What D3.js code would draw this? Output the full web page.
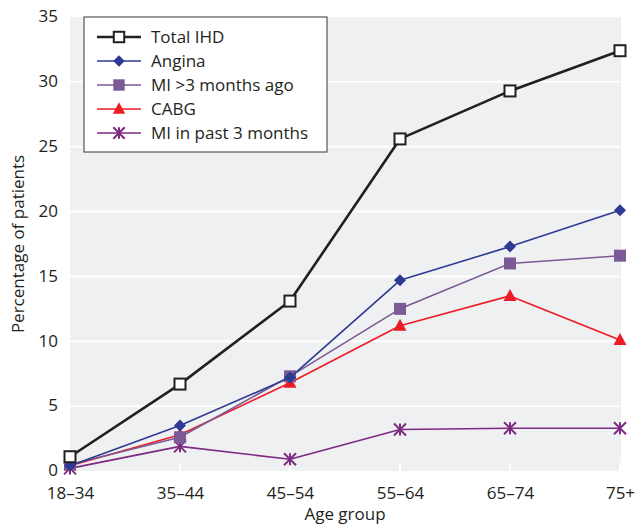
<!DOCTYPE html>
<html><head><meta charset="utf-8">
<script src="https://cdn.jsdelivr.net/npm/d3@7"></script>
<style>body{margin:0;background:#fff}svg{display:block;font-family:"Open Sans",sans-serif}</style>
</head><body>
<svg id="c" width="635" height="525"></svg>
<script>
const ageGroups = ["18–34","35–44","45–54","55–64","65–74","75+"];
const totalIHD = [1.1, 6.7, 13.1, 25.6, 29.3, 32.4];
const angina = [0.4, 3.5, 7.2, 14.7, 17.3, 20.1];
const miOver3 = [0.5, 2.6, 7.3, 12.5, 16.0, 16.6];
const cabg = [0.4, 2.8, 6.8, 11.2, 13.5, 10.1];
const miPast3 = [0.2, 1.9, 0.9, 3.2, 3.3, 3.3];
const yTicks = [0,5,10,15,20,25,30,35];

const series = [
  {name:"Total IHD", values:totalIHD, color:"#231f20", width:2.6, marker:"openSquare"},
  {name:"Angina", values:angina, color:"#2e3a92", width:1.6, marker:"diamond"},
  {name:"MI >3 months ago", values:miOver3, color:"#7b5a95", width:1.6, marker:"square"},
  {name:"CABG", values:cabg, color:"#ed1c24", width:1.6, marker:"triangle"},
  {name:"MI in past 3 months", values:miPast3, color:"#7d2a82", width:1.6, marker:"asterisk"}
];

const svg = d3.select("#c");
const L=70, R=620, T=17, B=471;
const x = d3.scalePoint().domain(ageGroups).range([L,R]);
const y = d3.scaleLinear().domain([0,35]).range([B,T]);

svg.append("rect").attr("x",L).attr("y",T).attr("width",R-L+1).attr("height",B-T).attr("fill","#eff0f2");
svg.append("g").selectAll("line").data(yTicks.filter(d=>d>0&&d<35)).join("line")
  .attr("x1",L).attr("x2",R).attr("y1",d=>y(d)).attr("y2",d=>y(d))
  .attr("stroke","#fff").attr("stroke-width",2);
svg.append("g").selectAll("line").data(ageGroups.slice(1)).join("line")
  .attr("x1",d=>x(d)).attr("x2",d=>x(d)).attr("y1",B-8).attr("y2",B)
  .attr("stroke","#fff").attr("stroke-width",2);

// axes
const ya = svg.append("g").attr("transform",`translate(${L},0)`)
  .call(d3.axisLeft(y).tickValues(yTicks).tickSize(0).tickPadding(12));
ya.select(".domain").remove();
ya.selectAll("text").attr("font-size",17).attr("fill","#231f20").attr("font-family","Open Sans").attr("dy","0.28em");
const xa = svg.append("g").attr("transform",`translate(0,${B})`)
  .call(d3.axisBottom(x).tickSize(0).tickPadding(16));
xa.select(".domain").remove();
xa.selectAll("text").attr("font-size",17).attr("fill","#231f20").attr("font-family","Open Sans");

svg.append("text").attr("x",345).attr("y",520).attr("text-anchor","middle")
  .attr("font-size",17).attr("fill","#231f20").text("Age group");
svg.append("text").attr("transform",`translate(24,${(T+B)/2}) rotate(-90)`).attr("text-anchor","middle")
  .attr("font-size",17).attr("fill","#231f20").text("Percentage of patients");

function drawMarker(g, s, cx, cy, scale){
  const k = scale||1;
  if(s.marker==="openSquare"){
    g.append("rect").attr("x",cx-5.5*k).attr("y",cy-5.5*k).attr("width",11*k).attr("height",11*k)
      .attr("fill","#fff").attr("stroke",s.color).attr("stroke-width",2);
  } else if(s.marker==="diamond"){
    g.append("path").attr("d",`M${cx},${cy-6*k}L${cx+6*k},${cy}L${cx},${cy+6*k}L${cx-6*k},${cy}Z`).attr("fill",s.color);
  } else if(s.marker==="square"){
    g.append("rect").attr("x",cx-6*k).attr("y",cy-6*k).attr("width",12*k).attr("height",12*k).attr("fill",s.color);
  } else if(s.marker==="triangle"){
    g.append("path").attr("d",`M${cx},${cy-7*k}L${cx+6.5*k},${cy+5*k}L${cx-6.5*k},${cy+5*k}Z`).attr("fill",s.color);
  } else if(s.marker==="asterisk"){
    const r=6*k;
    const p = `M${cx-r},${cy-r}L${cx+r},${cy+r}M${cx-r},${cy+r}L${cx+r},${cy-r}M${cx},${cy-r}L${cx},${cy+r}`;
    g.append("path").attr("d",p).attr("stroke",s.color).attr("stroke-width",2).attr("fill","none");
  }
}

const line = d3.line().x((d,i)=>x(ageGroups[i])).y(d=>y(d));
// draw in reverse order so Total IHD on top
series.slice().reverse().forEach(s=>{
  const g = svg.append("g");
  g.append("path").datum(s.values).attr("d",line).attr("fill","none")
    .attr("stroke",s.color).attr("stroke-width",s.width).attr("stroke-linejoin","round");
  s.values.forEach((v,i)=>drawMarker(g,s,x(ageGroups[i]),y(v)));
});

// legend
const lg = svg.append("g");
lg.append("rect").attr("x",84).attr("y",17).attr("width",243).attr("height",135)
  .attr("fill","#fff").attr("stroke","#555").attr("stroke-width",1.2);
series.forEach((s,i)=>{
  const cy = 37 + i*24;
  lg.append("line").attr("x1",97).attr("x2",141).attr("y1",cy).attr("y2",cy)
    .attr("stroke",s.color).attr("stroke-width",s.width);
  drawMarker(lg,s,119,cy,0.95);
  lg.append("text").attr("x",151).attr("y",cy).attr("dy","0.35em").attr("font-size",17)
    .attr("fill","#231f20").text(s.name);
});
</script>
</body></html>
